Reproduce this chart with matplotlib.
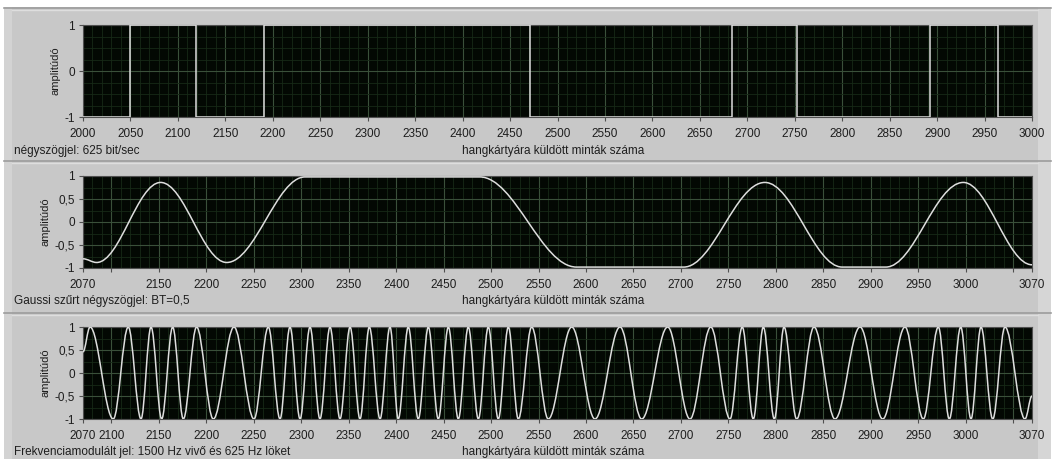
import matplotlib
matplotlib.use("Agg")
import matplotlib.pyplot as plt
from matplotlib.path import Path
from matplotlib.patches import PathPatch, Rectangle
from matplotlib.lines import Line2D
from matplotlib.ticker import MultipleLocator

plt.rcParams['font.family'] = ['Liberation Sans', 'DejaVu Sans']

# ---------------- data ----------------
# panel 1: square wave, transition sample positions and segment levels
sq_edges = [2000, 2049.4, 2118.7, 2190.5, 2471.4, 2684.0, 2752.2, 2892.6, 2963.7, 3000]
sq_levels = [-1, 1, -1, 1, -1, 1, -1, 1, -1]

# panel 2: Gaussian filtered square wave, key points (extrema / plateau ends)
gauss_x = [2070, 2084.4, 2151.8, 2221.4, 2304, 2488, 2590, 2703, 2788.5, 2870, 2916, 2997.6, 3070]
gauss_y = [-0.80, -0.88, 0.86, -0.88, 0.98, 0.98, -0.98, -0.98, 0.86, -0.98, -0.98, 0.86, -0.93]

# panel 3: FM signal, start point, alternating peaks / troughs, end point
fm_x = [2070, 2077.4, 2101.9, 2117.7, 2131.1, 2141.7, 2152.9, 2164.5, 2175.7, 2189.7,
        2207.3, 2229.1, 2250.2, 2265.3, 2277.6, 2288.1, 2298.7, 2309.2, 2319.7, 2330.3,
        2340.8, 2351.4, 2361.9, 2371.7, 2383.0, 2393.5, 2402.2, 2412.8, 2423.3, 2433.9,
        2444.4, 2455.0, 2465.5, 2476.0, 2486.6, 2497.1, 2507.6, 2518.2, 2528.7, 2542.8,
        2560.3, 2585.0, 2609.5, 2635.9, 2658.7, 2686.1, 2709.6, 2731.5, 2751.8, 2764.7,
        2776.3, 2786.9, 2798.5, 2808.7, 2822.0, 2840.3, 2862.4, 2888.8, 2912.7, 2936.2,
        2955.5, 2971.3, 2982.9, 2994.9, 3005.7, 3016.3, 3028.6, 3041.5, 3062.6, 3070]
fm_y = [0.46] + [1, -1] * 34 + [-0.5]

# axes ranges and ticks
x1_range = (2000, 3000)
x23_range = (2070, 3070)
x1_ticks = list(range(2000, 3001, 50))
x23_ticks = [2070] + list(range(2100, 3051, 50)) + [3070]
x2_hidden = [2100, 3050]
x3_hidden = [3050]
y1_ticks = [-1, 0, 1]
y1_labels = ['-1', '0', '1']
y23_ticks = [-1, -0.5, 0, 0.5, 1]
y23_labels = ['-1', '-0,5', '0', '0,5', '1']

captions = ['négyszögjel: 625 bit/sec',
            'Gaussi szűrt négyszögjel: BT=0,5',
            'Frekvenciamodulált jel: 1500 Hz vivő és 625 Hz löket']
xlabel = 'hangkártyára küldött minták száma'
ylabel = 'amplitúdó'

# ---------------- style ----------------
W, H = 1057, 459
PANEL = '#c8c8c8'
PLOTBG = '#030803'
MAJ = '#3a503a'
MIN = '#172917'
LINE = '#dedede'
TXT = '#1e1e1e'
FS = 8.5

fig = plt.figure(figsize=(W / 100, H / 100), dpi=100, facecolor=PANEL)


def fx(px):
    return px / W


def fy(py):
    return 1 - py / H


def frect(x0, y0, x1, y1, color):
    fig.patches.append(Rectangle((fx(x0), fy(y1)), fx(x1) - fx(x0), fy(y0) - fy(y1),
                                 transform=fig.transFigure, facecolor=color,
                                 edgecolor='none', zorder=-10))


def fline(x0, y0, x1, y1, color, lw=1.0):
    fig.lines.append(Line2D([fx(x0), fx(x1)], [fy(y0), fy(y1)], transform=fig.transFigure,
                            color=color, lw=lw, zorder=-9))


# white outer margins and frame bands
frect(0, 0, W, 7, 'white')
frect(0, 0, 4, H, 'white')
frect(1051, 0, W, H, 'white')
frect(4, 7, 12, H, '#d3d3d3')
frect(1038, 7, 1051, H, '#d6d6d6')
for yy in (8, 161, 313):
    fline(4, yy, 1051, yy, '#9c9c9c', 1.2)
    fline(12, yy + 2, 1038, yy + 2, '#dedede', 1.0)


def smooth_patch(xs, ys, k=0.3634):
    verts = [(xs[0], ys[0])]
    codes = [Path.MOVETO]
    for i in range(len(xs) - 1):
        dx = xs[i + 1] - xs[i]
        verts += [(xs[i] + k * dx, ys[i]), (xs[i + 1] - k * dx, ys[i + 1]), (xs[i + 1], ys[i + 1])]
        codes += [Path.CURVE4] * 3
    return PathPatch(Path(verts, codes), fill=False, edgecolor=LINE, lw=1.1, zorder=3)


def make_axes(top, bottom):
    left, right = 83, 1032
    ax = fig.add_axes([fx(left), fy(bottom), fx(right) - fx(left), fy(top) - fy(bottom)])
    ax.set_zorder(2)
    ax.set_facecolor(PLOTBG)
    for s in ax.spines.values():
        s.set_color('#505050')
        s.set_linewidth(0.8)
    ax.xaxis.set_minor_locator(MultipleLocator(10))
    ax.yaxis.set_minor_locator(MultipleLocator(0.25))
    ax.grid(True, which='major', color=MAJ, lw=0.8, zorder=1)
    ax.grid(True, which='minor', color=MIN, lw=0.6, zorder=1)
    ax.set_axisbelow(True)
    ax.tick_params(which='minor', length=0)
    ax.tick_params(which='major', direction='out', length=3, width=0.8, color='#505050',
                   labelsize=FS, labelcolor=TXT)
    ax.tick_params(axis='x', pad=5)
    ax.tick_params(axis='y', pad=3)
    ax.set_ylabel(ylabel, fontsize=8, color=TXT, labelpad=3)
    return ax


# panel 1
ax1 = make_axes(25, 117)
ax1.stairs(sq_levels, sq_edges, baseline=None, color=LINE, lw=1.1, zorder=3)
ax1.set_xlim(*x1_range)
ax1.set_ylim(-1, 1)
ax1.set_xticks(x1_ticks)
ax1.set_xticklabels([str(t) for t in x1_ticks])
ax1.set_yticks(y1_ticks)
ax1.set_yticklabels(y1_labels)

# panel 2
ax2 = make_axes(176, 268)
ax2.add_patch(smooth_patch(gauss_x, gauss_y))
ax2.set_xlim(*x23_range)
ax2.set_ylim(-1, 1)
ax2.set_xticks(x23_ticks)
ax2.set_xticklabels(['' if t in x2_hidden else str(t) for t in x23_ticks])
ax2.set_yticks(y23_ticks)
ax2.set_yticklabels(y23_labels)

# panel 3
ax3 = make_axes(327, 419)
ax3.add_patch(smooth_patch(fm_x, fm_y))
ax3.set_xlim(*x23_range)
ax3.set_ylim(-1, 1)
ax3.set_xticks(x23_ticks)
ax3.set_xticklabels(['' if t in x3_hidden else str(t) for t in x23_ticks])
ax3.set_yticks(y23_ticks)
ax3.set_yticklabels(y23_labels)

for cap, yy in zip(captions, (151, 301, 452)):
    fig.text(fx(14), fy(yy), cap, ha='left', va='center', fontsize=FS, color=TXT)
    fig.text(fx(553), fy(yy), xlabel, ha='center', va='center', fontsize=FS, color=TXT)

fig.savefig('out.png', dpi=100, facecolor=fig.get_facecolor())
